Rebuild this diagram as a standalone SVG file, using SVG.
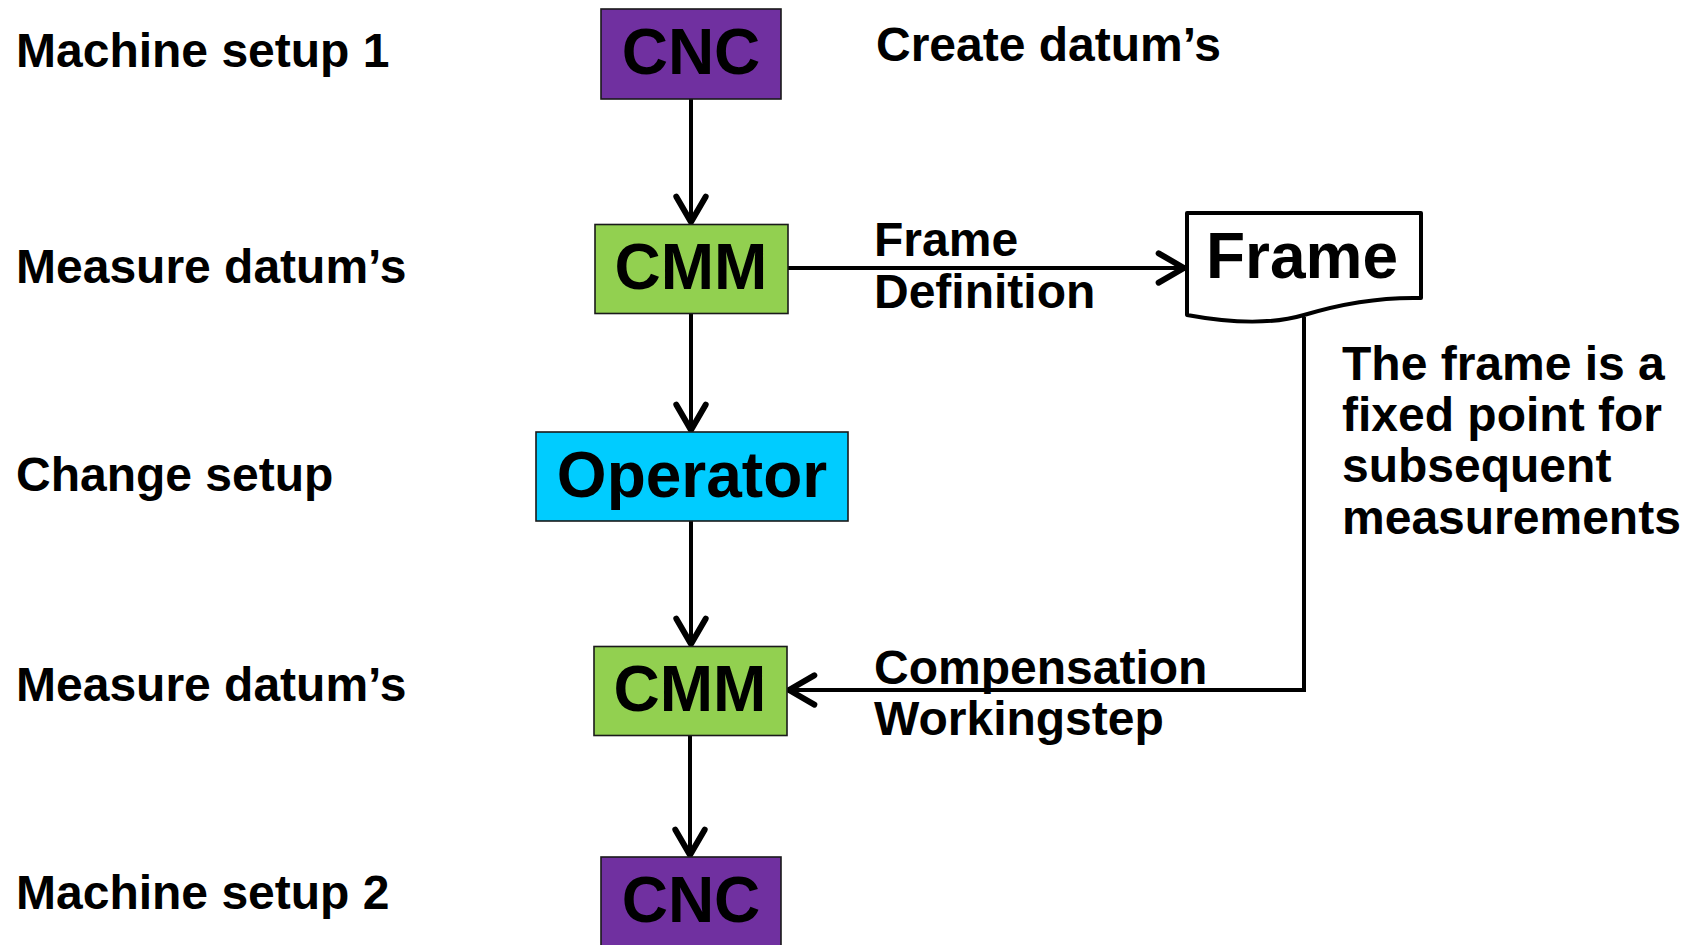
<svg xmlns="http://www.w3.org/2000/svg" width="1701" height="945" viewBox="0 0 1701 945">
<style>
text{font-family:"Liberation Sans",Arial,sans-serif;font-weight:bold;fill:#000}
.lbl{font-size:48px}
.box{stroke:#1a1a1a;stroke-width:1.6}
.bt{font-size:64px;text-anchor:middle}
.cnc{fill:#7030A0}
.cmm{fill:#92D050}
.op{fill:#00CCFF}
.conn{stroke:#000;stroke-width:4;fill:none;marker-end:url(#arr)}
</style>
<defs>
<marker id="arr" markerUnits="userSpaceOnUse" markerWidth="40" markerHeight="40" viewBox="-25 -15 30 30" refX="0" refY="0" orient="auto">
<path d="M-19,-11 L0,0 L-19,11" fill="none" stroke="#000" stroke-width="4.5" stroke-linecap="round" stroke-linejoin="round"/>
</marker>
</defs>
<rect width="1701" height="945" fill="#fff"/>
<g id="labels">
<text class="lbl" x="16" y="67">Machine setup 1</text>
<text class="lbl" x="16" y="283">Measure datum’s</text>
<text class="lbl" x="16" y="491">Change setup</text>
<text class="lbl" x="16" y="701">Measure datum’s</text>
<text class="lbl" x="16" y="909">Machine setup 2</text>
<text class="lbl" x="876" y="61">Create datum’s</text>
<text class="lbl" x="1342" y="380">The frame is a</text>
<text class="lbl" x="1342" y="431">fixed point for</text>
<text class="lbl" x="1342" y="482">subsequent</text>
<text class="lbl" x="1342" y="534">measurements</text>
</g>
<g id="connectors">
<path class="conn" d="M691,99 V222"/>
<path class="conn" d="M691,314 V430"/>
<path class="conn" d="M691,521 V644"/>
<path class="conn" d="M690,736 V855"/>
<path class="conn" d="M788,268 H1184"/>
<path class="conn" d="M1304,317 V690 H789"/>
<text class="lbl" x="874" y="256">Frame</text>
<text class="lbl" x="874" y="308">Definition</text>
<text class="lbl" x="874" y="684">Compensation</text>
<text class="lbl" x="874" y="735">Workingstep</text>
</g>
<g id="cnc1">
<rect class="box cnc" x="601" y="9" width="180" height="90"/>
<text class="bt" x="691" y="74">CNC</text>
</g>
<g id="cmm1">
<rect class="box cmm" x="595" y="224.5" width="193" height="89"/>
<text class="bt" x="691" y="289">CMM</text>
</g>
<g id="operator">
<rect class="box op" x="536" y="432" width="312" height="89"/>
<text class="bt" x="692" y="497">Operator</text>
</g>
<g id="cmm2">
<rect class="box cmm" x="594" y="646.5" width="193" height="89"/>
<text class="bt" x="690" y="711">CMM</text>
</g>
<g id="cnc2">
<rect class="box cnc" x="601" y="857" width="180" height="100"/>
<text class="bt" x="691" y="922">CNC</text>
</g>
<g id="frame">
<path d="M1187,213 H1421 V298 C1380,297 1340,304 1304,315 C1270,325 1225,322 1187,315 Z" fill="#fff" stroke="#000" stroke-width="4" stroke-linejoin="round"/>
<text class="bt" x="1302" y="278">Frame</text>
</g>
</svg>
